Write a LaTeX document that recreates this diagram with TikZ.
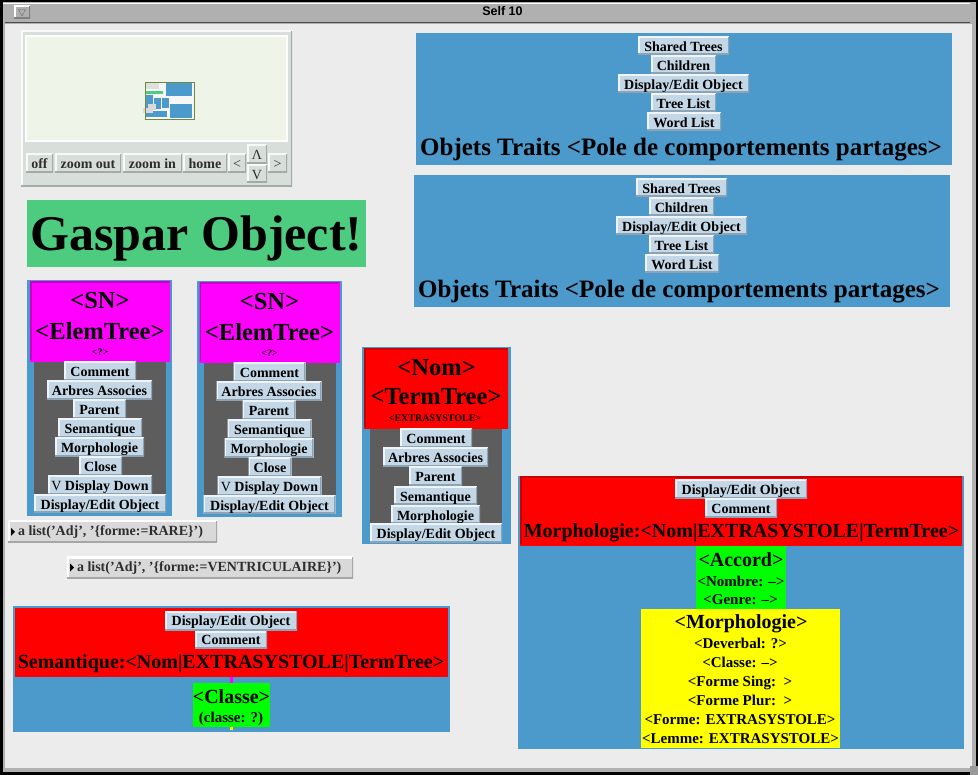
\documentclass[tikz,border=0pt]{standalone}
\usepackage{fontspec}
\setmainfont{Liberation Serif}
\newfontfamily\sansbold{Liberation Sans}
\definecolor{bgc}{HTML}{ECECEC}
\definecolor{wgray}{HTML}{B0B0B0}
\definecolor{panelblue}{HTML}{4B9ACB}
\definecolor{btnface}{HTML}{C3D7E6}
\definecolor{btnlight}{HTML}{EEF4F8}
\definecolor{btndark}{HTML}{8EA4B4}
\definecolor{navface}{HTML}{D8DFDB}
\definecolor{navlight}{HTML}{F6FAF8}
\definecolor{navdark}{HTML}{A4ABA7}
\definecolor{navscreen}{HTML}{EEF4E8}
\definecolor{darkfill}{HTML}{5D5D5D}
\definecolor{gasgreen}{HTML}{4DCC80}
\definecolor{listface}{HTML}{D9D9D9}
\definecolor{txtgray}{HTML}{2E2E2E}
\definecolor{minigreen}{HTML}{6E8B3D}
\definecolor{Mag}{RGB}{255,0,255}
\definecolor{MagD}{RGB}{200,0,200}
\definecolor{Red}{RGB}{255,0,0}
\definecolor{RedD}{RGB}{200,0,0}
\definecolor{Grn}{RGB}{0,255,0}
\definecolor{Yel}{RGB}{255,255,0}
\newcommand\fsBtn{\fontsize{14}{16}\selectfont\bfseries}
\newcommand\fsHead{\fontsize{24.5}{28}\selectfont\bfseries}
\newcommand\fsTitle{\fontsize{25}{28}\selectfont\bfseries}
\newcommand\fsMid{\fontsize{20}{24}\selectfont\bfseries}
\newcommand\fsSmall{\fontsize{15}{18}\selectfont\bfseries}
\newcommand\fsTiny{\fontsize{10}{12}\selectfont\bfseries}
\newcommand\Bn[7]{%
 \pgfmathsetmacro\myW{#4-#2}\pgfmathsetmacro\myH{#5-#3}%
 \pgfmathsetmacro\myX{(#2+#4)/2}\pgfmathsetmacro\myY{(#3+#5)/2}%
 \node[inner sep=0pt,outer sep=0pt,minimum width=\myW pt,minimum height=\myH pt,#6] (#1) at (\myX,\myY) {#7};}
\newcommand\Rn[6]{\Bn{#1}{#2}{#3}{#4}{#5}{#6}{}}
\tikzset{
 bevel/.style 2 args={path picture={
   \draw[line width=3pt,#1] (path picture bounding box.south west) -- (path picture bounding box.north west) -- (path picture bounding box.north east);
   \draw[line width=3pt,#2] (path picture bounding box.north east) -- (path picture bounding box.south east) -- (path picture bounding box.south west);}},
 btn/.style={fill=btnface,bevel={btnlight}{btndark},font=\fsBtn,text height=11pt,text depth=0.6pt},
 navbtn/.style={fill=navface,bevel={navlight}{navdark},font=\fsBtn,text=txtgray,text height=11pt,text depth=0.6pt},
 listbtn/.style={fill=listface,bevel={white}{black!35}},
 txt/.style={anchor=base,inner sep=0pt,outer sep=0pt},
}
\newcommand\SNpanel[3]{%
\begin{scope}[shift={(#2,#3)}]
 \Rn{#1blue}{27}{280}{172}{516}{fill=panelblue}
 \Rn{#1head}{30}{282}{170}{362}{fill=Mag,bevel={MagD}{Mag}}
 \Rn{#1dark}{34}{362}{166}{513}{fill=darkfill}
 \node[txt,font=\fsHead] (#1ta) at (100,309) {<SN>};
 \node[txt,font=\fsHead] (#1tb) at (100,340) {<ElemTree>};
 \node[txt,font=\fsTiny] (#1tc) at (100,356) {<?>};
 \Bn{#1b1}{64}{362}{136}{381}{btn}{Comment}
 \Bn{#1b2}{47}{381}{152}{400}{btn}{Arbres Associes}
 \Bn{#1b3}{73}{400}{126}{419}{btn}{Parent}
 \Bn{#1b4}{58}{419}{142}{438}{btn}{Semantique}
 \Bn{#1b5}{55}{438}{144}{457}{btn}{Morphologie}
 \Bn{#1b6}{79}{457}{122}{476}{btn}{Close}
 \Bn{#1b7}{48}{476}{152}{495}{btn}{{\mdseries V} Display Down}
 \Bn{#1b8}{34}{495}{166}{513}{btn}{Display/Edit Object}
\end{scope}}
\newcommand\TraitsPanel[3]{%
\begin{scope}[shift={(#2,#3)}]
 \Rn{#1blue}{416}{33}{952}{165}{fill=panelblue}
 \Bn{#1b1}{638}{37}{729}{55}{btn}{Shared Trees}
 \Bn{#1b2}{651}{56}{716}{74}{btn}{Children}
 \Bn{#1b3}{618}{75}{749}{93}{btn}{Display/Edit Object}
 \Bn{#1b4}{651}{94}{716}{112}{btn}{Tree List}
 \Bn{#1b5}{647}{113}{721}{131}{btn}{Word List}
 \node[txt,font=\fsTitle] (#1t) at (681,156) {Objets Traits <Pole de comportements partages>};
\end{scope}}
\begin{document}
\begin{tikzpicture}[x=1pt,y=-1pt]
\useasboundingbox (0,0) rectangle (978,775);
% window
\fill[black] (0,0) rectangle (978,775);
\fill[wgray] (3,2) rectangle (976,772);
\draw[white] (3,3.5) -- (970,3.5);
\fill[bgc] (5,24) rectangle (972,768);
\draw[black!70] (5,22.5) -- (970,22.5);
\Bn{winbtn}{14}{6}{30}{19}{fill=wgray,bevel={white}{black!50}}{}
\draw[black!60] (18.5,9.5) -- (25.5,9.5) -- (22,16) -- cycle;
\node[txt,font=\sansbold\fontsize{12.5}{14}\selectfont\bfseries] (wtitle) at (502.5,16) {Self 10};
\fill[black!40] (970,766) rectangle (978,775);
% navigator
\Rn{navframe}{21}{31}{292}{187}{fill=navface,bevel={navlight}{navdark}}
\Rn{navscreen}{26}{36}{287}{141}{fill=navscreen,draw=white,line width=1.2pt}
\fill[white!93!gray] (145,82) rectangle (194,119);
\fill[gray!25] (146,82) rectangle (159,89);
\fill[panelblue] (166,82) rectangle (192,96);
\fill[gasgreen] (146,91) rectangle (163,94);
\fill[panelblue] (146,95) rectangle (153,108);
\fill[panelblue] (154,98) rectangle (161,109);
\fill[panelblue] (162,98) rectangle (169,108);
\fill[panelblue] (146,111) rectangle (167,117);
\fill[panelblue] (170,104) rectangle (192,118);
\fill[gray!30] (143,108) rectangle (153,113);
\fill[gray!30] (148,104) rectangle (156,110);
\draw[minigreen] (145,82) rectangle (194,119);
\Bn{nb1}{26}{154}{53}{173}{navbtn}{off}
\Bn{nb2}{55}{154}{121}{173}{navbtn}{zoom out}
\Bn{nb3}{123}{154}{182}{173}{navbtn}{zoom in}
\Bn{nb4}{183}{154}{227}{173}{navbtn}{home}
\Bn{nb5}{228}{154}{246}{173}{navbtn}{{\mdseries <}}
\Bn{nb6}{247}{145}{267}{164}{navbtn}{{\mdseries Λ}}
\Bn{nb7}{247}{165}{267}{183}{navbtn}{{\mdseries V}}
\Bn{nb8}{268}{154}{287}{173}{navbtn}{{\mdseries >}}
% Gaspar
\Rn{gaspar}{27}{200}{366}{267}{fill=gasgreen}
\node[txt,font=\fontsize{50}{56}\selectfont\bfseries] (gaspart) at (196.5,251) {Gaspar Object!};
% traits panels
\TraitsPanel{tp}{0}{0}
\TraitsPanel{tq}{-2}{142}
% SN panels
\SNpanel{sa}{0}{0}
\SNpanel{sb}{169.5}{1}
% Nom panel
\Rn{nomblue}{362}{347}{511}{544}{fill=panelblue}
\Rn{nomhead}{364}{349}{508}{429}{fill=Red,bevel={RedD}{Red}}
\Rn{nomdark}{370}{429}{502}{542}{fill=darkfill}
\node[txt,font=\fsHead] (nomta) at (436.5,376) {<Nom>};
\node[txt,font=\fsHead] (nomtb) at (436,405) {<TermTree>};
\node[txt,font=\fsTiny] (nomtc) at (435,422) {<EXTRASYSTOLE>};
\Bn{nomb1}{400}{429}{472}{448}{btn}{Comment}
\Bn{nomb2}{383}{448}{488}{467}{btn}{Arbres Associes}
\Bn{nomb3}{409}{467}{462}{486}{btn}{Parent}
\Bn{nomb4}{394}{487}{477}{505}{btn}{Semantique}
\Bn{nomb5}{391}{506}{480}{524}{btn}{Morphologie}
\Bn{nomb6}{370}{524}{502}{543}{btn}{Display/Edit Object}
% list buttons
\Rn{la}{8}{521}{217}{543}{listbtn}
\fill[black] (11,528) -- (11,536) -- (15,532) -- cycle;
\node[txt,anchor=base west,font=\fsBtn,text=txtgray] (lat) at (18,536) {a list('Adj', '\{forme:=RARE\}')};
\Rn{lb}{67}{557}{353}{578}{listbtn}
\fill[black] (70,563.5) -- (70,571.5) -- (74,567.5) -- cycle;
\node[txt,anchor=base west,font=\fsBtn,text=txtgray] (lbt) at (77,572) {a list('Adj', '\{forme:=VENTRICULAIRE\}')};
% Semantique panel
\Rn{semblue}{13}{606}{450}{732}{fill=panelblue}
\Rn{semhead}{15}{608}{448}{677}{fill=Red}
\Bn{semb1}{165}{611}{297}{630}{btn}{Display/Edit Object}
\Bn{semb2}{195}{631}{267}{648}{btn}{Comment}
\node[txt,font=\fsMid] (semt) at (231,668) {Semantique:<Nom|EXTRASYSTOLE|TermTree>};
\fill[Mag] (230,677) rectangle (233,683);
\Rn{semgreen}{193}{683}{270}{727}{fill=Grn}
\fill[Yel] (230,727) rectangle (233,730);
\node[txt,font=\fsMid] (semc1) at (231.5,703) {<Classe>};
\node[txt,font=\fsSmall] (semc2) at (231,722) {(classe: ?)};
% Morphologie panel
\Rn{morblue}{518}{476}{964}{749}{fill=panelblue}
\Rn{morhead}{520}{477}{962}{546}{fill=Red,bevel={RedD}{Red}}
\Bn{morb1}{675}{480}{807}{499}{btn}{Display/Edit Object}
\Bn{morb2}{705}{499}{777}{518}{btn}{Comment}
\node[txt,font=\fsMid] (mort) at (741.5,538) {Morphologie:<Nom|EXTRASYSTOLE|TermTree>};
\Rn{morgreen}{696}{546}{786}{609}{fill=Grn}
\node[txt,font=\fsMid] (acc1) at (741,566) {<Accord>};
\node[txt,font=\fsSmall] (acc2) at (741,586) {<Nombre: –>};
\node[txt,font=\fsSmall] (acc3) at (740.5,604) {<Genre: –>};
\Rn{moryellow}{641}{609}{840}{748}{fill=Yel}
\node[txt,font=\fsMid] (my1) at (741,628) {<Morphologie>};
\node[txt,font=\fsSmall] (my2) at (740.5,648) {<Deverbal: ?>};
\node[txt,font=\fsSmall] (my3) at (740,667) {<Classe: –>};
\node[txt,font=\fsSmall] (my4) at (740,686) {<Forme Sing:~~>};
\node[txt,font=\fsSmall] (my5) at (740,705) {<Forme Plur:~~>};
\node[txt,font=\fsSmall] (my6) at (740,724) {<Forme: EXTRASYSTOLE>};
\node[txt,font=\fsSmall] (my7) at (740.5,743) {<Lemme: EXTRASYSTOLE>};
\end{tikzpicture}
\end{document}
